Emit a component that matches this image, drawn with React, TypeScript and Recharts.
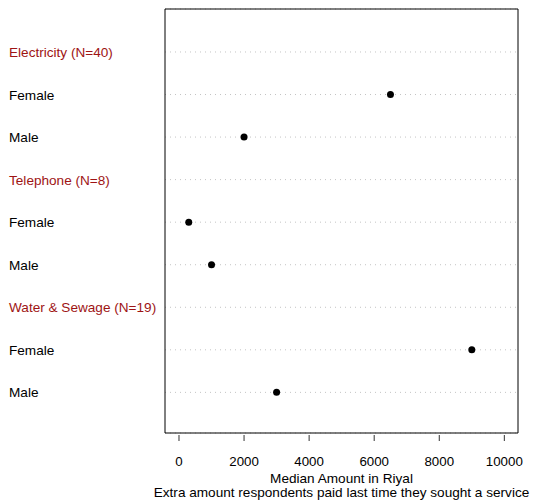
import {
  CartesianGrid,
  ReferenceArea,
  Scatter,
  ScatterChart,
  XAxis,
  YAxis,
} from "recharts";

// rows from top to bottom; group headers carry no value
const rowLabels = [
  "Electricity (N=40)",
  "Female",
  "Male",
  "Telephone (N=8)",
  "Female",
  "Male",
  "Water & Sewage (N=19)",
  "Female",
  "Male",
];
const headerRows = [0, 3, 6];
const medianRiyal = [null, 6500, 2000, null, 300, 1000, null, 9000, 3000];

const xTicks = [0, 2000, 4000, 6000, 8000, 10000];
const xTitle = "Median Amount in Riyal";
const xSubtitle = "Extra amount respondents paid last time they sought a service";

const FONT = "'Liberation Sans', Arial, Helvetica, sans-serif";
const HEADER_COLOR = "#9e1414";
const LABEL_SIZE = 13.6;

const rows = rowLabels.map((label, i) => ({
  label,
  pos: rowLabels.length - i,
  value: medianRiyal[i],
  header: headerRows.includes(i),
}));
const points = rows.filter((r) => r.value !== null);
const rowTicks = rows.map((r) => r.pos);

const X_DOMAIN: [number, number] = [-430, 10420];
const Y_DOMAIN: [number, number] = [0.045, 10.01];

const RowTick = (props: any) => {
  const { y, payload } = props;
  const row = rows.find((r) => r.pos === payload.value);
  if (!row) return null;
  return (
    <text
      x={9}
      y={y + 5}
      textAnchor="start"
      fontFamily={FONT}
      fontSize={LABEL_SIZE}
      fill={row.header ? HEADER_COLOR : "#000"}
    >
      {row.label}
    </text>
  );
};

const ValueTick = (props: any) => {
  const { x, y, payload } = props;
  return (
    <g>
      <line x1={x} x2={x} y1={y + 2} y2={y + 8} stroke="#333" strokeWidth={1} />
      <text
        x={x}
        y={y + 33}
        textAnchor="middle"
        fontFamily={FONT}
        fontSize={13.3}
        fill="#000"
      >
        {payload.value}
      </text>
    </g>
  );
};

const AxisTitles = (props: any) => {
  const { viewBox } = props;
  const cx = viewBox.x + viewBox.width / 2;
  return (
    <g fontFamily={FONT} fontSize={LABEL_SIZE} fill="#000" textAnchor="middle">
      <text x={cx} y={482.5}>{xTitle}</text>
      <text x={cx} y={497}>{xSubtitle}</text>
    </g>
  );
};

export default function App() {
  return (
    <div style={{ position: "absolute", left: 0, top: 0, background: "#fff" }}>
      <ScatterChart
        width={536}
        height={504}
        margin={{ top: 9, right: 18, bottom: 0, left: 0 }}
      >
        <CartesianGrid
          vertical={false}
          horizontal
          stroke="#c4c4c4"
          strokeDasharray="1 4"
        />
        <XAxis
          type="number"
          dataKey="value"
          domain={X_DOMAIN}
          ticks={xTicks}
          allowDataOverflow
          height={71}
          axisLine={false}
          tickLine={false}
          tickSize={0}
          tickMargin={0}
          tick={<ValueTick />}
          interval={0}
          label={<AxisTitles />}
        />
        <YAxis
          type="number"
          dataKey="pos"
          domain={Y_DOMAIN}
          ticks={rowTicks}
          allowDataOverflow
          width={165}
          axisLine={false}
          tickLine={false}
          tick={<RowTick />}
          interval={0}
        />
        <ReferenceArea
          x1={X_DOMAIN[0]}
          x2={X_DOMAIN[1]}
          y1={Y_DOMAIN[0]}
          y2={Y_DOMAIN[1]}
          fill="none"
          stroke="#000"
          strokeWidth={1}
          ifOverflow="visible"
        />
        <Scatter
          data={points}
          fill="#000"
          isAnimationActive={false}
          shape={(p: any) => <circle cx={p.cx} cy={p.cy} r={3.5} fill="#000" />}
        />
      </ScatterChart>
    </div>
  );
}
